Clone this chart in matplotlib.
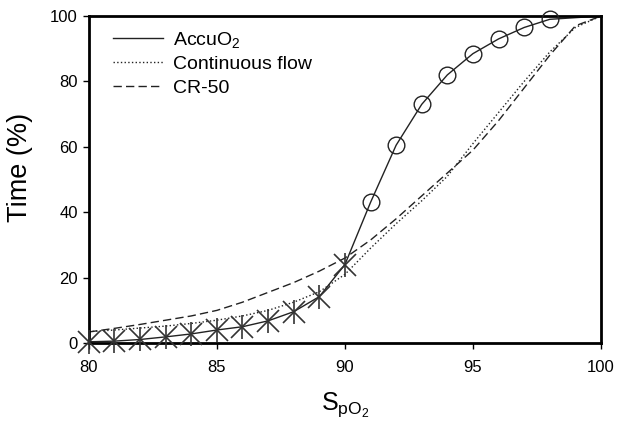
import matplotlib
matplotlib.use("Agg")
import matplotlib.pyplot as plt

plt.rcParams['font.family'] = ['Liberation Sans', 'DejaVu Sans']
plt.rcParams['mathtext.fontset'] = 'custom'
plt.rcParams['mathtext.rm'] = 'Liberation Sans'
plt.rcParams['mathtext.it'] = 'Liberation Sans:italic'
plt.rcParams['mathtext.bf'] = 'Liberation Sans:bold'

# ── data ──
spo2 = list(range(80, 101))

accu_x = [80, 81, 82, 83, 84, 85, 86, 87, 88, 89, 90,
          91, 92, 93, 94, 95, 96, 97, 98, 100]
accu_y = [0.4, 0.6, 1.1, 1.9, 2.8, 4.0, 5.0, 6.8, 9.6, 14.2, 24.0,
          43.0, 60.5, 73.0, 82.0, 88.5, 93.0, 96.5, 99.0, 100.0]
n_star = 11   # first 11 points drawn as asterisks, 91..98 as circles
n_circ = 19

contflow = [3.5, 4.0, 4.6, 5.2, 6.0, 7.0, 8.3, 10.0, 12.5, 15.7, 21.0,
            29.0, 36.5, 43.5, 51.0, 61.0, 70.5, 80.0, 89.0, 96.5, 100.0]
cr50 = [3.4, 4.5, 5.7, 7.0, 8.3, 10.0, 12.5, 15.5, 18.5, 22.0, 26.0,
        31.5, 38.0, 45.0, 52.0, 59.0, 68.0, 78.0, 88.0, 97.0, 100.0]

xticks = [80, 85, 90, 95, 100]
yticks = [0, 20, 40, 60, 80, 100]

fig = plt.figure(figsize=(6.17, 4.22), dpi=100)
ax = fig.add_axes([0.144, 0.187, 0.830, 0.775])

ink = '#222222'
ax.plot(accu_x, accu_y, '-', color=ink, lw=1.0, label=r'AccuO$_\mathregular{2}$')
ax.plot(spo2, contflow, ':', color=ink, lw=1.0, label='Continuous flow')
ax.plot(spo2, cr50, '--', color=ink, lw=1.0, dashes=(6, 3), label='CR-50')

# asterisk markers (X + vertical bar)
ax.plot(accu_x[:n_star], accu_y[:n_star], 'x', color='#333333', ms=16, mew=1.2,
        clip_on=False, zorder=4)
ax.plot(accu_x[:n_star], accu_y[:n_star], '|', color='#333333', ms=17, mew=1.2,
        clip_on=False, zorder=4)
ax.plot(accu_x[n_star:n_circ], accu_y[n_star:n_circ], 'o', mfc='none', mec=ink,
        ms=12, mew=1.0, clip_on=False, zorder=4)

ax.set_xlim(80, 100)
ax.set_ylim(0, 100)
ax.set_xticks(xticks)
ax.set_yticks(yticks)
ax.tick_params(direction='out', length=4, width=1, labelsize=12)
ax.tick_params(axis='x', pad=8.5)
ax.tick_params(axis='y', pad=4)
for s in ax.spines.values():
    s.set_linewidth(2)

ax.set_xlabel(r'S$_\mathregular{pO_2}$', fontsize=18, labelpad=11)
ax.set_ylabel('Time (%)', fontsize=19.5)
ax.yaxis.set_label_coords(-0.110, 0.538)

ax.legend(loc='upper left', frameon=False, fontsize=14, handlelength=2.6,
          labelspacing=0.3, handletextpad=0.5, borderaxespad=0.3,
          bbox_to_anchor=(0.02, 1.0))

fig.savefig('out.png', dpi=100)
